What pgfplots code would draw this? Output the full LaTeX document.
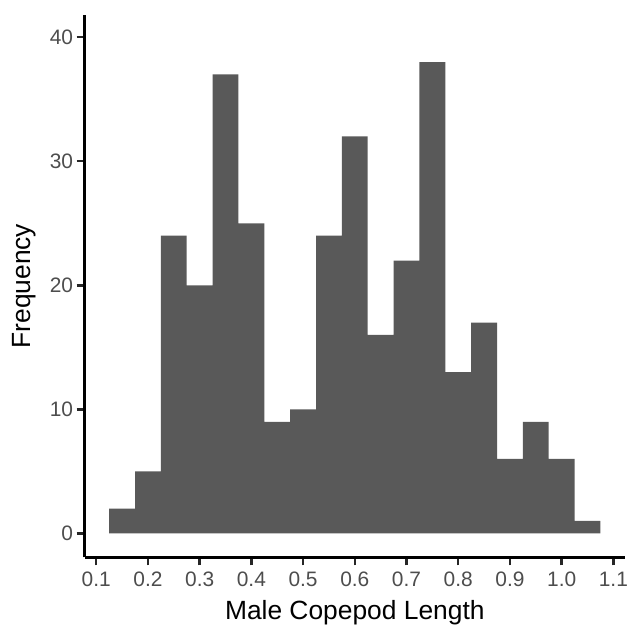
\documentclass[border=0pt]{standalone}
\usepackage{pgfplots}
\pgfplotsset{compat=1.18}
\usepackage{fontspec}
\setmainfont{Liberation Sans}
\definecolor{barfill}{HTML}{595959}
\definecolor{ticklab}{HTML}{4D4D4D}
\begin{document}
\begin{tikzpicture}
\useasboundingbox (-85pt,-68pt) rectangle (546pt,560pt);
\begin{axis}[
  at={(0,0)}, anchor=south west,
  scale only axis, width=543pt, height=545pt,
  xmin=0.0775, xmax=1.1225, ymin=-1.93, ymax=41.8,
  axis lines=left, axis line style={-, line width=3.4pt, black},
  xtick={0.1,0.2,0.3,0.4,0.5,0.6,0.7,0.8,0.9,1.0,1.1},
  xticklabels={0.1,0.2,0.3,0.4,0.5,0.6,0.7,0.8,0.9,1.0,1.1},
  ytick={0,10,20,30,40},
  tick align=outside, major tick length=8pt,
  tick style={line width=2.4pt, color=black!85},
  ticklabel style={font=\fontsize{21}{21}\selectfont, text=ticklab},
  xticklabel style={yshift=-3pt},
  /pgf/number format/assume math mode=true,
  xlabel={Male Copepod Length}, ylabel={Frequency},
  xlabel style={font=\fontsize{26.5}{26.5}\selectfont, at={(axis description cs:0.5,-0.1138)}, anchor=base},
  ylabel style={font=\fontsize{26.5}{26.5}\selectfont, at={(axis description cs:-0.0995,0.5)}, anchor=base},
  clip=false,
]
\addplot[ybar interval, fill=barfill, draw=none] coordinates {
(0.125,2) (0.175,5) (0.225,24) (0.275,20) (0.325,37) (0.375,25) (0.425,9)
(0.475,10) (0.525,24) (0.575,32) (0.625,16) (0.675,22) (0.725,38) (0.775,13)
(0.825,17) (0.875,6) (0.925,9) (0.975,6) (1.025,1) (1.075,1)
};
\end{axis}
\end{tikzpicture}
\end{document}
